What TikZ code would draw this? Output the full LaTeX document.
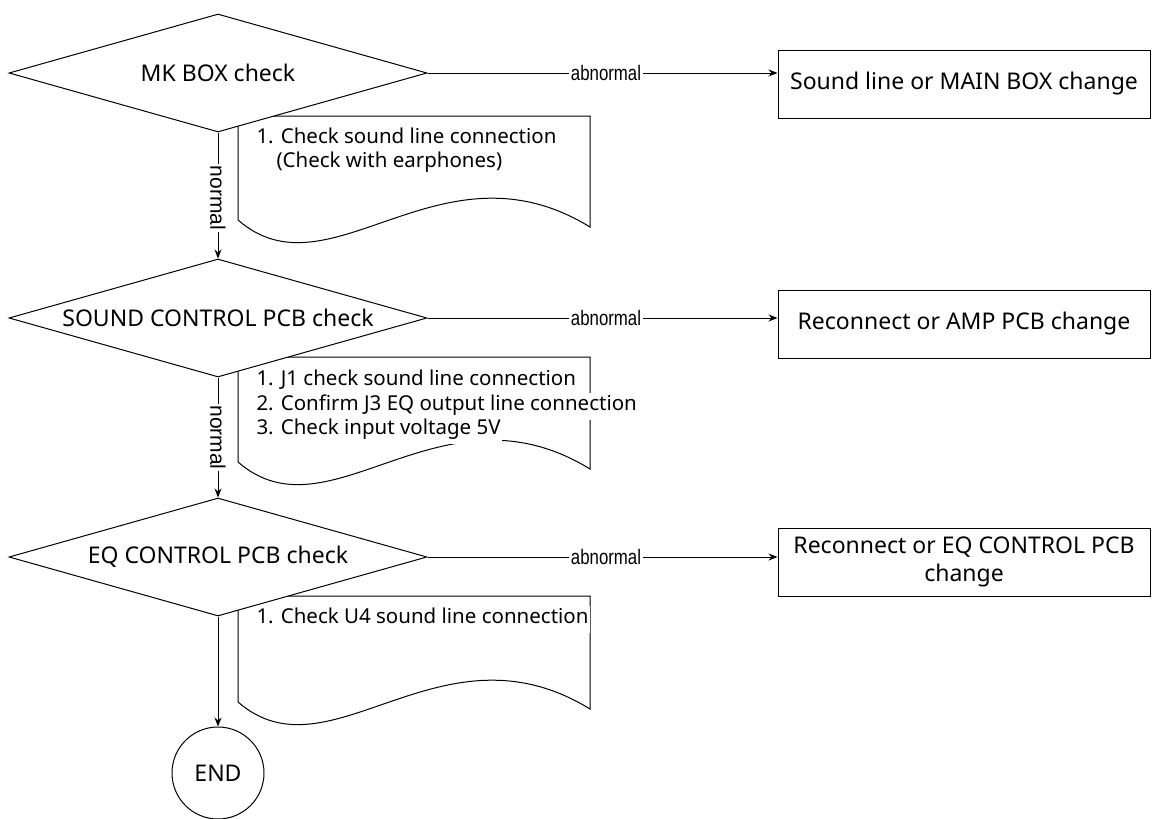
\documentclass[tikz,border=0pt]{standalone}
\usepackage{fontspec}
\usepackage{graphicx}
\setmainfont{Noto Sans}
\newfontfamily\labelfont{Liberation Sans}
\usetikzlibrary{shapes.geometric,arrows.meta}
\newcommand{\bigtext}{\fontsize{23}{28}\selectfont}
\newcommand{\smalltext}{\fontsize{20.5}{24}\selectfont}
\newcommand{\lbltext}{\labelfont\fontsize{21}{23}\selectfont}
\newcommand{\narrow}[1]{\scalebox{0.8}[1]{#1}}

\begin{document}
\begin{tikzpicture}[x=1pt,y=-1pt,line width=1pt,
    decision/.style={diamond,draw,fill=white,aspect=3.54,inner sep=0pt,
        minimum width=418pt,minimum height=118pt,font=\bigtext},
    result/.style={draw,minimum width=372pt,minimum height=68pt,inner sep=3pt,
        align=center,font=\bigtext},
    noteline/.style={fill=white,inner sep=1pt,text depth=9pt,anchor=base west,font=\smalltext},
    terminal/.style={circle,draw,minimum size=92pt,inner sep=0pt,font=\bigtext},
    flow/.style={-{Stealth[length=9pt,width=7pt]}},
    lbl/.style={fill=white,inner sep=1.5pt,font=\lbltext}]
    \path[use as bounding box,fill=white] (0,0) rectangle (1152,819);
    % notes with wavy bottom, drawn first so the diamonds cover them
    \foreach \t/\b in {116/220,357/462,596/702}
        \draw (238,\t) -- (590,\t) -- (590,\b+7)
            .. controls (440,\b-85) and (330,\b+80) .. (238,\b) -- cycle;
    \node[noteline] (n1a) at (255,143) {1. Check sound line connection};
    \node[noteline] (n1b) at (275,167) {(Check with earphones)};
    \node[noteline] (n2a) at (255,385) {1. J1 check sound line connection};
    \node[noteline] (n2b) at (255,410) {2. Confirm J3 EQ output line connection};
    \node[noteline] (n2c) at (255,434) {3. Check input voltage 5V};
    \node[noteline] (n3a) at (255,623) {1. Check U4 sound line connection};
    % checks
    \node[decision] (mk) at (218,73) {MK BOX check};
    \node[decision] (sc) at (218,318) {SOUND CONTROL PCB check};
    \node[decision] (eq) at (218,557) {EQ CONTROL PCB check};
    \node[terminal] (end) at (218,773) {END};
    % actions
    \node[result] (r1) at (964,84) {Sound line or MAIN BOX change};
    \node[result] (r2) at (964,324) {Reconnect or AMP PCB change};
    \node[result] (r3) at (964,562) {Reconnect or EQ CONTROL PCB\\change};
    \foreach \a/\b in {mk/r1,sc/r2,eq/r3}
        \draw[flow] (\a.east) -- (\a.east -| \b.west) node[lbl,pos=0.51] {\narrow{abnormal}};
    \draw[flow] (mk.south) -- (sc.north) node[lbl,pos=0.52,rotate=-90] {normal};
    \draw[flow] (sc.south) -- (eq.north) node[lbl,midway,rotate=-90] {normal};
    \draw[flow] (eq.south) -- (end.north);
\end{tikzpicture}
\end{document}
